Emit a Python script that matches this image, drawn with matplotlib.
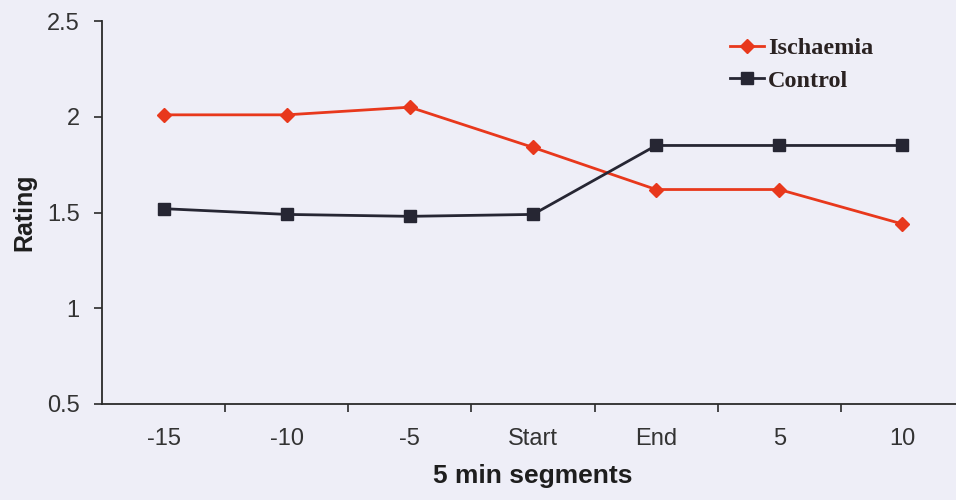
import matplotlib
matplotlib.use("Agg")
import matplotlib.pyplot as plt
import numpy as np

categories = ["-15", "-10", "-5", "Start", "End", "5", "10"]
ischaemia = [2.01, 2.01, 2.05, 1.84, 1.62, 1.62, 1.44]
control = [1.52, 1.49, 1.48, 1.49, 1.85, 1.85, 1.85]
yticks = [0.5, 1, 1.5, 2, 2.5]

bg = "#eeeef7"
fig = plt.figure(figsize=(9.56, 5.0), dpi=100, facecolor=bg)
ax = fig.add_axes([102/956, 96/500, (964-102)/956, (404-21)/500])
ax.set_facecolor(bg)

x = np.arange(len(categories))
ax.plot(x, ischaemia, color="#e8381c", lw=2.0, marker="D", ms=7.5,
        mec="#e8381c", mfc="#e8381c", label="Ischaemia", zorder=3)
ax.plot(x, control, color="#262633", lw=2.0, marker="s", ms=8,
        mec="#262633", mfc="#262633", label="Control", zorder=3)

ax.set_xlim(-0.5, len(categories) - 0.5)
ax.set_ylim(0.5, 2.5)
ax.set_yticks(yticks)
ax.set_yticklabels(["0.5", "1", "1.5", "2", "2.5"])

# category boundary ticks (major) and centered labels (minor)
ax.set_xticks(np.arange(0.5, len(categories) - 0.5, 1.0))
ax.set_xticklabels([])
ax.set_xticks(x, minor=True)
ax.set_xticklabels(categories, minor=True)

for s in ["top", "right"]:
    ax.spines[s].set_visible(False)
for s in ["left", "bottom"]:
    ax.spines[s].set_color("#2a2a2a")
    ax.spines[s].set_linewidth(1.3)

ax.tick_params(axis="y", direction="out", length=6, width=1.2, color="#2a2a2a",
               labelsize=17, labelcolor="#333333", pad=10)
ax.tick_params(axis="x", which="major", direction="out", length=6, width=1.2,
               color="#2a2a2a")
ax.tick_params(axis="x", which="minor", length=0, labelsize=17,
               labelcolor="#333333", pad=17)
for lab in ax.get_yticklabels() + ax.get_xticklabels(minor=True):
    lab.set_family("Liberation Sans")

ax.set_ylabel("Rating", family="Liberation Sans", fontweight="bold",
              fontsize=18, color="#1e1e1e", labelpad=8)
ax.set_xlabel("5 min segments", family="Liberation Sans", fontweight="bold",
              fontsize=19, color="#1e1e1e", labelpad=10)

leg = ax.legend(loc="upper left", bbox_to_anchor=(730/956, 1 - 37/500),
                bbox_transform=fig.transFigure, frameon=False,
                prop=dict(family="Liberation Serif", weight="bold", size=17.5),
                handlelength=1.4, handletextpad=0.15, labelspacing=0.45,
                borderaxespad=0, borderpad=0)
for t in leg.get_texts():
    t.set_color("#2a2222")

fig.savefig("out.png", dpi=100, facecolor=bg)
